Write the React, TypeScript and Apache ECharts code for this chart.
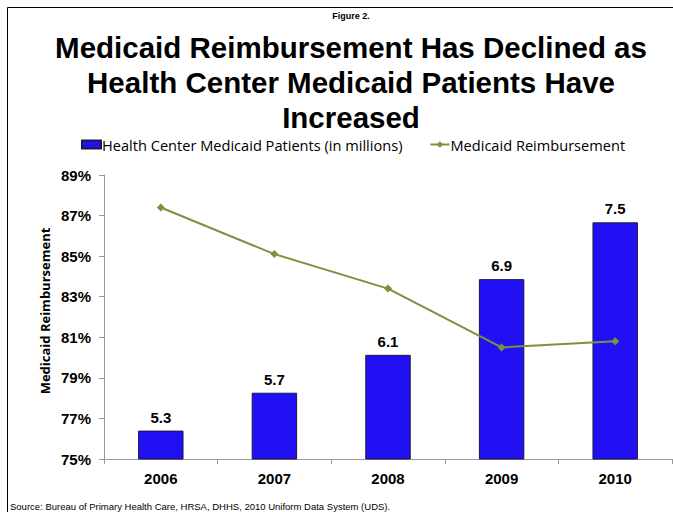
import React, { useEffect, useRef } from "react";
import * as echarts from "echarts";

const years = ["2006", "2007", "2008", "2009", "2010"];
const patients = [5.3, 5.7, 6.1, 6.9, 7.5];
const reimbursement = [87.4, 85.1, 83.4, 80.5, 80.8];

export default function App() {
  const ref = useRef<HTMLDivElement>(null);
  useEffect(() => {
    document.body.style.margin = "0";
    const chart = echarts.init(ref.current!, null, { renderer: "svg" });
    const arial = "'Liberation Sans', Arial, sans-serif";
    const calibri = "'Open Sans', Lato, sans-serif";
    chart.setOption({
      animation: false,
      backgroundColor: "#ffffff",
      legend: {
        left: 76,
        top: 132,
        itemGap: 27,
        itemWidth: 19,
        itemHeight: 8,
        textStyle: { fontFamily: calibri, fontSize: 14.6, color: "#000", padding: [0, 0, 0, -4] },
        data: [
          { name: "Health Center Medicaid Patients (in millions)", icon: "rect" },
          { name: "Medicaid Reimbursement" },
        ],
      },
      grid: { left: 104, right: 1, top: 175, bottom: 53, containLabel: false },
      xAxis: {
        type: "category",
        data: years,
        axisLine: { lineStyle: { color: "#999", width: 1 } },
        axisTick: { show: true, length: 5, lineStyle: { color: "#999" } },
        axisLabel: {
          fontFamily: arial,
          fontSize: 15,
          fontWeight: "bold",
          color: "#000",
          margin: 12,
        },
      },
      yAxis: [
        {
          type: "value",
          min: 75,
          max: 89,
          interval: 2,
          axisLine: { show: true, lineStyle: { color: "#999" } },
          axisTick: { show: true, length: 5, lineStyle: { color: "#999" } },
          splitLine: { show: false },
          axisLabel: {
            fontFamily: arial,
            fontSize: 15,
            fontWeight: "bold",
            color: "#000",
            margin: 13,
            formatter: "{value}%",
          },
        },
        {
          type: "value",
          min: 5,
          max: 8,
          show: false,
          splitLine: { show: false },
        },
      ],
      series: [
        {
          name: "Health Center Medicaid Patients (in millions)",
          type: "bar",
          yAxisIndex: 1,
          data: patients,
          barWidth: "40%",
          itemStyle: { color: "#2210F5", borderColor: "#1a1a40", borderWidth: 1 },
          label: {
            show: true,
            position: "top",
            distance: 6,
            fontFamily: arial,
            fontSize: 15,
            fontWeight: "bold",
            color: "#000",
          },
        },
        {
          name: "Medicaid Reimbursement",
          type: "line",
          yAxisIndex: 0,
          data: reimbursement,
          symbol: "diamond",
          symbolSize: 8,
          lineStyle: { color: "#77933C", width: 2 },
          itemStyle: { color: "#77933C" },
        },
      ],
      graphic: [
        {
          type: "line",
          shape: { x1: 7.5, y1: 7.5, x2: 673, y2: 7.5 },
          style: { stroke: "#000", lineWidth: 1 },
        },
        {
          type: "line",
          shape: { x1: 7.5, y1: 7.5, x2: 7.5, y2: 512 },
          style: { stroke: "#000", lineWidth: 1 },
        },
        {
          type: "text",
          x: 351,
          y: 11,
          style: {
            text: "Figure 2.",
            font: "bold 9px 'Liberation Sans', Arial, sans-serif",
            fill: "#000",
            align: "center",
          },
        },
        {
          type: "text",
          x: 351,
          y: 30,
          style: {
            text: "Medicaid Reimbursement Has Declined as\nHealth Center Medicaid Patients Have\nIncreased",
            font: "bold 29.5px 'Liberation Sans', Arial, sans-serif",
            lineHeight: 35,
            fill: "#000",
            align: "center",
          },
        },
        {
          type: "text",
          x: 45,
          y: 311,
          rotation: Math.PI / 2,
          style: {
            text: "Medicaid Reimbursement",
            font: "bold 13px 'Open Sans', Lato, sans-serif",
            fill: "#000",
            align: "center",
            verticalAlign: "middle",
          },
        },
        {
          type: "text",
          x: 10,
          y: 501,
          style: {
            text: "Source: Bureau of Primary Health Care, HRSA, DHHS, 2010 Uniform Data System (UDS).",
            font: "9.5px 'Liberation Sans', Arial, sans-serif",
            fill: "#000",
          },
        },
      ],
    });
    return () => chart.dispose();
  }, []);
  return <div ref={ref} style={{ width: 673, height: 512 }} />;
}
